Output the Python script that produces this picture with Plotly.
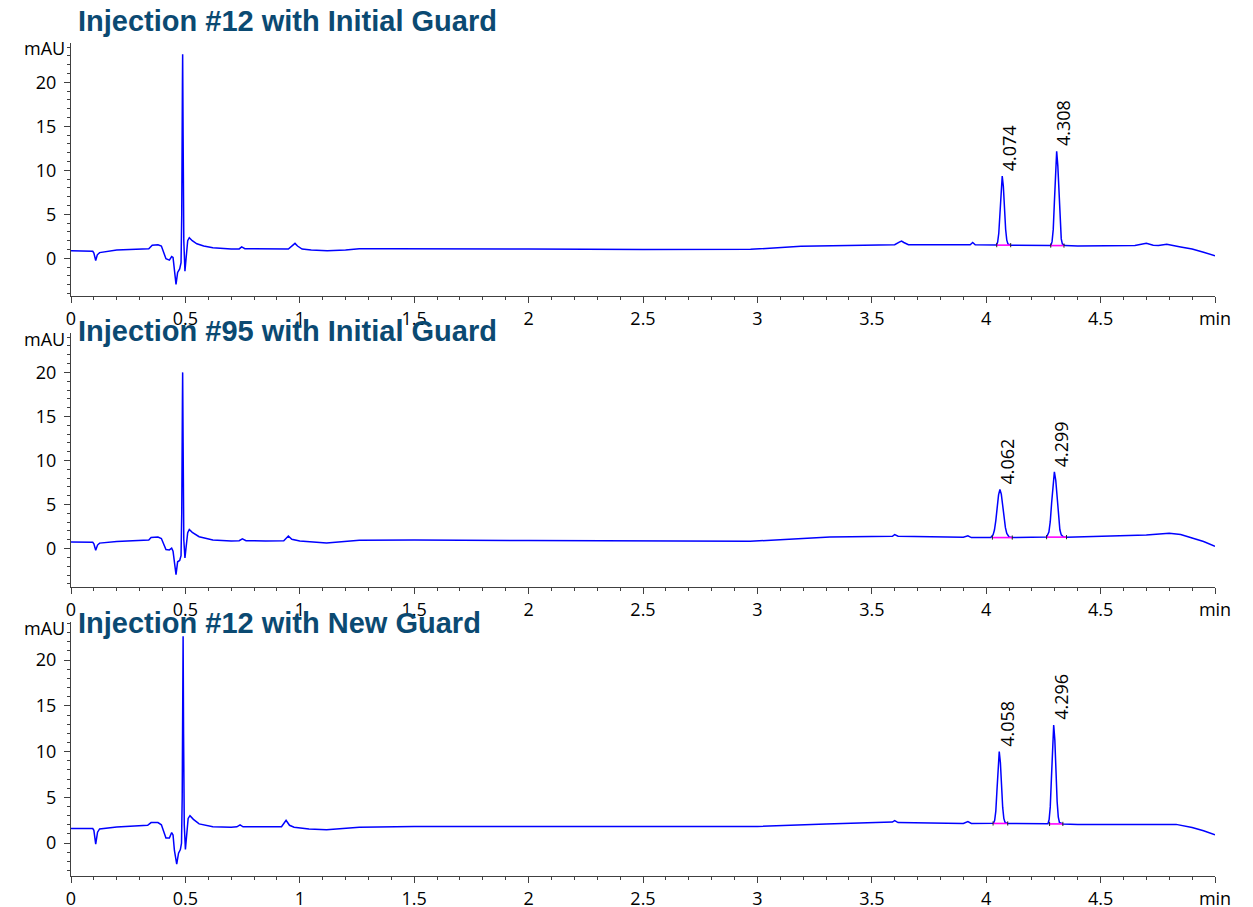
import plotly.graph_objects as go

W, H = 1253, 907

TITLES = ["Injection #12 with Initial Guard",
          "Injection #95 with Initial Guard",
          "Injection #12 with New Guard"]

# ---- Panel 1 chromatogram (time in min, absorbance in mAU) ----
T1 = [0.000, 0.050, 0.095, 0.100, 0.108, 0.115, 0.125, 0.200, 0.300, 0.340, 0.355, 0.380, 0.395, 0.405,
      0.415, 0.430, 0.440, 0.446, 0.452, 0.459, 0.466, 0.475, 0.481, 0.484, 0.487, 0.488, 0.490, 0.493,
      0.498, 0.503, 0.510, 0.517, 0.530, 0.550, 0.580, 0.620, 0.700, 0.735, 0.746, 0.760, 0.850, 0.950,
      0.970, 0.979, 0.990, 1.010, 1.050, 1.120, 1.200, 1.260, 1.400, 1.600, 2.000, 2.500, 2.970, 3.190,
      3.400, 3.600, 3.620, 3.630, 3.640, 3.660, 3.800, 3.930, 3.941, 3.952,
      4.045, 4.050, 4.055, 4.060, 4.065, 4.070, 4.075, 4.080, 4.085, 4.090, 4.095, 4.107,
      4.200, 4.283, 4.288, 4.293, 4.298, 4.303, 4.308, 4.313, 4.318, 4.323, 4.328, 4.333, 4.345,
      4.400, 4.500, 4.607, 4.650, 4.700, 4.730, 4.753, 4.789, 4.850, 4.900, 4.950, 5.000]
A1 = [0.85, 0.85, 0.80, 0.60, -0.25, 0.40, 0.65, 0.95, 1.05, 1.10, 1.50, 1.55, 1.40, 0.60,
      -0.05, -0.20, 0.20, 0.10, -1.50, -2.95, -1.60, -1.20, -0.50, 5.00, 20.00, 23.20, 14.00, 2.00,
      -1.45, 0.50, 2.00, 2.35, 2.00, 1.65, 1.40, 1.20, 1.05, 1.07, 1.30, 1.10, 1.05, 1.05,
      1.50, 1.70, 1.40, 1.05, 0.95, 0.85, 0.95, 1.10, 1.10, 1.10, 1.05, 1.00, 1.02, 1.36,
      1.45, 1.55, 1.85, 1.97, 1.80, 1.55, 1.55, 1.55, 1.80, 1.55,
      1.52, 1.85, 2.85, 5.10, 7.96, 9.35, 8.16, 5.56, 3.28, 2.06, 1.63, 1.50,
      1.45, 1.47, 1.92, 3.29, 6.36, 10.26, 12.16, 10.53, 6.99, 3.88, 2.21, 1.62, 1.45,
      1.40, 1.45, 1.48, 1.45, 1.70, 1.50, 1.45, 1.60, 1.30, 1.05, 0.70, 0.30]

# ---- Panel 2 ----
T2 = [0.000, 0.095, 0.100, 0.108, 0.116, 0.125, 0.200, 0.300, 0.340, 0.350, 0.380, 0.395, 0.405,
      0.415, 0.430, 0.440, 0.446, 0.452, 0.459, 0.466, 0.475, 0.481, 0.484, 0.487, 0.488, 0.490, 0.493,
      0.498, 0.503, 0.510, 0.517, 0.530, 0.560, 0.620, 0.700, 0.735, 0.749, 0.765, 0.850, 0.930,
      0.950, 0.965, 1.000, 1.117, 1.260, 1.500, 2.000, 2.500, 2.968, 3.317, 3.590, 3.600, 3.615,
      3.900, 3.920, 3.935,
      4.020, 4.030, 4.036, 4.042, 4.048, 4.054, 4.060, 4.066, 4.072, 4.078, 4.084, 4.090, 4.100, 4.114,
      4.200, 4.264, 4.274, 4.280, 4.286, 4.292, 4.298, 4.304, 4.310, 4.316, 4.322, 4.328, 4.338, 4.351,
      4.450, 4.600, 4.700, 4.800, 4.850, 4.900, 4.950, 5.000]
A2 = [0.75, 0.72, 0.55, -0.19, 0.40, 0.62, 0.80, 0.94, 0.98, 1.25, 1.32, 1.15, 0.40,
      -0.10, -0.15, 0.05, -0.30, -1.50, -2.95, -1.50, -1.35, -0.80, 4.00, 17.00, 20.00, 12.00, 1.00,
      -1.05, 0.50, 1.80, 2.16, 1.85, 1.35, 0.97, 0.87, 0.90, 1.10, 0.90, 0.87, 0.90,
      1.43, 1.05, 0.87, 0.64, 0.94, 0.97, 0.92, 0.88, 0.83, 1.32, 1.40, 1.59, 1.40,
      1.30, 1.45, 1.25,
      1.27, 1.56, 2.11, 3.18, 4.68, 6.10, 6.70, 6.19, 4.92, 3.49, 2.37, 1.71, 1.32, 1.25,
      1.28, 1.32, 1.87, 3.05, 5.20, 7.60, 8.70, 7.76, 5.60, 3.45, 2.13, 1.55, 1.32, 1.30,
      1.35, 1.50, 1.55, 1.75, 1.60, 1.20, 0.80, 0.26]

# ---- Panel 3 ----
T3 = [0.000, 0.095, 0.100, 0.108, 0.116, 0.125, 0.200, 0.300, 0.335, 0.350, 0.380, 0.395, 0.405,
      0.415, 0.430, 0.440, 0.446, 0.452, 0.462, 0.470, 0.478, 0.483, 0.486, 0.489, 0.490, 0.492, 0.495,
      0.500, 0.505, 0.512, 0.520, 0.535, 0.560, 0.620, 0.700, 0.725, 0.739, 0.752, 0.850, 0.920,
      0.940, 0.955, 0.975, 1.040, 1.117, 1.260, 1.500, 2.000, 2.500, 3.000, 3.300, 3.500, 3.590,
      3.600, 3.615, 3.900, 3.920, 3.935,
      4.032, 4.037, 4.042, 4.047, 4.052, 4.057, 4.062, 4.067, 4.072, 4.077, 4.082, 4.094,
      4.200, 4.270, 4.275, 4.280, 4.285, 4.290, 4.295, 4.300, 4.305, 4.310, 4.315, 4.320, 4.335,
      4.400, 4.600, 4.750, 4.830, 4.900, 4.950, 5.000]
A3 = [1.60, 1.60, 1.40, -0.10, 1.20, 1.55, 1.75, 1.85, 1.95, 2.25, 2.25, 2.00, 1.20,
      0.55, 0.55, 1.16, 0.90, -0.80, -2.30, -1.10, -0.70, 0.00, 5.00, 18.00, 22.60, 12.00, 2.00,
      -0.70, 1.00, 2.70, 3.00, 2.60, 2.10, 1.80, 1.74, 1.78, 2.00, 1.78, 1.78, 1.80,
      2.50, 1.95, 1.74, 1.55, 1.45, 1.74, 1.82, 1.80, 1.78, 1.82, 2.10, 2.25, 2.30,
      2.45, 2.25, 2.15, 2.35, 2.15,
      2.17, 2.50, 3.50, 5.75, 8.61, 10.00, 8.81, 6.21, 3.93, 2.71, 2.28, 2.15,
      2.12, 2.12, 2.58, 3.96, 7.05, 10.99, 12.90, 11.26, 7.68, 4.55, 2.87, 2.27, 2.10,
      2.05, 2.05, 2.10, 2.05, 1.70, 1.35, 0.90]

# Peak labels (retention times), apex positions and integration baselines
PEAK_LABELS = [["4.074", "4.308"], ["4.062", "4.299"], ["4.058", "4.296"]]
PEAK_APEX_T = [[4.070, 4.308], [4.060, 4.298], [4.057, 4.295]]
PEAK_APEX_A = [[9.35, 12.16], [6.70, 8.70], [10.00, 12.90]]
BASE_T = [[(4.046, 4.107), (4.282, 4.340)],
          [(4.027, 4.114), (4.264, 4.351)],
          [(4.030, 4.094), (4.277, 4.335)]]
BASE_A = [[(1.50, 1.50), (1.45, 1.45)],
          [(1.25, 1.25), (1.30, 1.30)],
          [(2.15, 2.15), (2.10, 2.10)]]

X_TICKS = [0, 0.5, 1, 1.5, 2, 2.5, 3, 3.5, 4, 4.5, 5]
X_TICKTEXT = ["0", "0.5", "1", "1.5", "2", "2.5", "3", "3.5", "4", "4.5", "min"]
Y_TICKS = [0, 5, 10, 15, 20]

# ---- layout geometry (pixels) ----
X_LEFT, X_RIGHT = 71, 1215
PANELS = [  # (top px, bottom px, y range)
    (43, 296, [-4.28, 24.47]),
    (333, 587, [-4.36, 24.47]),
    (622, 876, [-3.59, 24.16]),
]
TITLE_Y = [21, 331, 623]
MAU_Y = [48, 339, 628]

TICK_FONT = dict(family="Open Sans", size=18, color="black")
AXIS_COLOR = "#404040"
TRACE_COLOR = "#0000FF"
BASE_COLOR = "#FF00FF"
TITLE_COLOR = "#0B4A72"

fig = go.Figure()
series = [(T1, A1), (T2, A2), (T3, A3)]
annotations = []
layout = dict(width=W, height=H, margin=dict(l=0, r=0, t=0, b=0, pad=0, autoexpand=False),
              autosize=False, paper_bgcolor="white", plot_bgcolor="white", showlegend=False)

for i, ((t, a), (top, bot, yr)) in enumerate(zip(series, PANELS)):
    n = "" if i == 0 else str(i + 1)
    xa, ya = "x" + n, "y" + n
    fig.add_trace(go.Scatter(x=t, y=a, mode="lines", xaxis=xa, yaxis=ya,
                             line=dict(color=TRACE_COLOR, width=1.5), hoverinfo="skip"))
    for (bt, ba) in zip(BASE_T[i], BASE_A[i]):
        fig.add_trace(go.Scatter(x=list(bt), y=list(ba), mode="lines", xaxis=xa, yaxis=ya,
                                 line=dict(color=BASE_COLOR, width=1.6), hoverinfo="skip"))
        fig.add_trace(go.Scatter(x=list(bt), y=list(ba), mode="markers", xaxis=xa, yaxis=ya,
                                 marker=dict(symbol="line-ns", size=3, line=dict(color="#222", width=1)),
                                 hoverinfo="skip"))
    layout["xaxis" + n] = dict(
        domain=[X_LEFT / W, X_RIGHT / W], range=[0, 5], anchor=ya, automargin=False,
        showline=True, linecolor=AXIS_COLOR, linewidth=1, showgrid=False, zeroline=False,
        ticks="outside", ticklen=6, tickcolor=AXIS_COLOR, tickwidth=1,
        tickmode="array", tickvals=X_TICKS, ticktext=X_TICKTEXT, tickfont=TICK_FONT,
        minor=dict(ticks="outside", ticklen=3, tickcolor=AXIS_COLOR, tickmode="linear",
                   tick0=0, dtick=0.1, showgrid=False),
    )
    layout["yaxis" + n] = dict(
        domain=[1 - bot / H, 1 - top / H], range=yr, anchor=xa, automargin=False,
        showline=True, linecolor=AXIS_COLOR, linewidth=1, showgrid=False, zeroline=False,
        ticks="outside", ticklen=6, tickcolor=AXIS_COLOR, tickwidth=1, ticklabelstandoff=4,
        tickmode="array", tickvals=Y_TICKS, tickfont=TICK_FONT,
        minor=dict(ticks="outside", ticklen=3, tickcolor=AXIS_COLOR, tickmode="linear",
                   tick0=0, dtick=1, showgrid=False),
    )
    annotations.append(dict(text="<b>" + TITLES[i] + "</b>", xref="paper", yref="paper",
                            x=76 / W, y=1 - TITLE_Y[i] / H, xanchor="left", yanchor="middle",
                            showarrow=False,
                            font=dict(family="Liberation Sans", size=29, color=TITLE_COLOR)))
    annotations.append(dict(text="mAU", xref="paper", yref="paper",
                            x=67 / W, y=1 - MAU_Y[i] / H, xanchor="right", yanchor="middle",
                            showarrow=False, font=TICK_FONT))
    for lab, pt, pa in zip(PEAK_LABELS[i], PEAK_APEX_T[i], PEAK_APEX_A[i]):
        annotations.append(dict(text=lab, xref=xa, yref=ya, x=pt, y=pa,
                                xanchor="center", yanchor="bottom", textangle=-90,
                                xshift=7, yshift=3, showarrow=False, font=TICK_FONT))

layout["annotations"] = annotations
fig.update_layout(**layout)
post = ("document.documentElement.style.margin='0';document.documentElement.style.overflow='hidden';"
        "document.body.style.margin='0';document.body.style.overflow='hidden';")
fig.write_html("out.html", config={"responsive": False}, post_script=post)
